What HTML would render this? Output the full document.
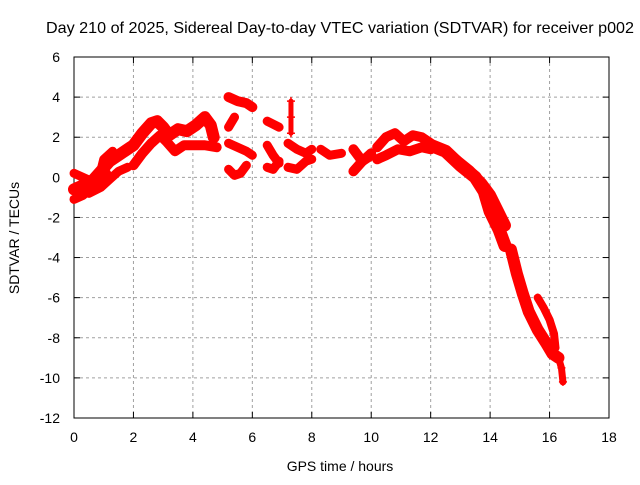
<!DOCTYPE html>
<html><head><meta charset="utf-8"><style>
body{margin:0;background:#fff;}
svg text{font-family:"Liberation Sans",sans-serif;font-size:14px;fill:#000;}
</style></head><body>
<svg id="chart" width="640" height="480">
<rect width="640" height="480" fill="#fff"/>
<text x="340" y="33" text-anchor="middle" style="font-size:16px" textLength="588" lengthAdjust="spacingAndGlyphs">Day 210 of 2025, Sidereal Day-to-day VTEC variation (SDTVAR) for receiver p002</text>
<g id="grid"></g>
<g id="axes"></g>
<g id="marks"></g>
<text x="340" y="471" text-anchor="middle">GPS time / hours</text>
<text x="0" y="0" transform="translate(19,238) rotate(-90)" text-anchor="middle">SDTVAR / TECUs</text>
</svg>
<script>
const xTicks=[0,2,4,6,8,10,12,14,16,18];
const yTicks=[6,4,2,0,-2,-4,-6,-8,-10,-12];
const track1=[[0,-0.6],[0.3,-0.4],[0.6,-0.2],[0.9,0.3],[1.2,0.8],[1.6,1.2],[2.0,1.6],[2.3,2.2],[2.6,2.7],[2.8,2.8],[3.0,2.5],[3.2,2.1],[3.5,2.4],[3.8,2.3],[4.1,2.6],[4.4,3.0],[4.6,2.6],[4.7,2.0]];
const track2=[[2.0,0.6],[2.3,1.2],[2.6,1.7],[2.9,2.1],[3.1,1.8],[3.4,1.3],[3.7,1.6],[4.0,1.6],[4.4,1.6],[4.8,1.5]];
const track3=[[0,-1.1],[0.3,-0.9],[0.6,-0.5],[0.9,-0.1],[1.1,0.2]];
const track4=[[0,0.2],[0.3,0.0],[0.6,-0.2],[0.9,0.3],[1.0,0.9],[1.3,1.3]];
const track5=[[0.5,-0.8],[0.9,-0.5],[1.2,-0.1],[1.5,0.3],[1.8,0.5]];
const track6=[[5.2,4.0],[5.5,3.8],[5.8,3.7],[6.0,3.5]];
const track7=[[5.2,2.5],[5.4,3.0]];
const track8=[[5.2,1.7],[5.5,1.5],[5.8,1.3],[6.0,1.1]];
const track9=[[5.2,0.4],[5.4,0.1],[5.6,0.2],[5.8,0.6]];
const track10=[[6.5,2.8],[6.9,2.5]];
const track11=[[6.5,1.6],[6.7,1.1],[6.9,0.7]];
const track12=[[6.5,0.5],[6.7,0.4],[6.9,0.8]];
const track13=[[7.3,3.8],[7.3,3.0],[7.3,2.2]];
const track14=[[7.2,1.7],[7.5,1.4],[7.8,1.2],[8.0,1.4]];
const track15=[[7.2,0.5],[7.5,0.4],[7.8,0.8],[8.0,0.9]];
const track16=[[8.3,1.4],[8.6,1.1],[9.0,1.2]];
const track17=[[9.4,1.4],[9.7,0.8],[10.0,1.1]];
const track18=[[9.4,0.3],[9.7,0.8],[10.0,1.2]];
const track19=[[10.2,1.5],[10.5,2.0],[10.8,2.2],[11.1,1.8],[11.4,2.1],[11.7,2.0],[12.0,1.7]];
const track20=[[10.2,0.9],[10.5,1.1],[10.9,1.4],[11.3,1.3],[11.7,1.5],[12.0,1.4]];
const track21=[[12.0,1.6],[12.5,1.3],[13.0,0.6],[13.5,0.0],[13.8,-0.7],[14.0,-1.7],[14.3,-2.6],[14.5,-3.4]];
const track22=[[12.8,0.9],[13.3,0.3],[13.7,-0.3],[14.0,-0.9],[14.3,-1.8],[14.5,-2.4]];
const track23=[[14.7,-3.6],[14.9,-4.8],[15.1,-5.8],[15.3,-6.7],[15.6,-7.6],[15.9,-8.3],[16.1,-8.8],[16.3,-9.0]];
const track24=[[15.6,-6.0],[15.8,-6.5],[16.0,-7.1],[16.15,-7.8],[16.2,-8.5]];
const track25=[[16.3,-9.0],[16.4,-9.5],[16.45,-10.2]];
const tracks=[track1,track2,track3,track4,track5,track6,track7,track8,track9,track10,track11,track12,track13,track14,track15,track16,track17,track18,track19,track20,track21,track22,track23,track24,track25];
const widths=[12,10,9,9,9,10,9,9,9,9,9,9,5,9,9,9,10,10,10,10,13,12,12,8,7];
const X0=74,X1=609,Y0=57,Y1=418;
const sx=v=>X0+(v-0)/(18-0)*(X1-X0);
const sy=v=>Y0+(6-v)/(6+12)*(Y1-Y0);
const NS="http://www.w3.org/2000/svg";
const grid=document.getElementById('grid'),axes=document.getElementById('axes'),marks=document.getElementById('marks');
function mk(t,a,p){const e=document.createElementNS(NS,t);for(const k in a)e.setAttribute(k,a[k]);p.appendChild(e);return e;}
xTicks.forEach(t=>{const x=sx(t);
 if(t>0&&t<18){const g=mk('line',{x1:x,x2:x,y1:Y0,y2:Y1,stroke:'#a0a0a0','stroke-dasharray':'3,3'},grid);
 
 }
 mk('line',{x1:x,x2:x,y1:Y1,y2:Y1-6,stroke:'#000'},axes);
 mk('line',{x1:x,x2:x,y1:Y0,y2:Y0+6,stroke:'#000'},axes);
 const l=mk('text',{x:x,y:Y1+24,'text-anchor':'middle'},axes);l.textContent=t;
 
 });
yTicks.forEach(t=>{const y=sy(t);
 if(t<6&&t>-12){const g=mk('line',{x1:X0,x2:X1,y1:y,y2:y,stroke:'#a0a0a0','stroke-dasharray':'3,3'},grid);
 
 }
 mk('line',{x1:X0,x2:X0+6,y1:y,y2:y,stroke:'#000'},axes);
 mk('line',{x1:X1,x2:X1-6,y1:y,y2:y,stroke:'#000'},axes);
 const l=mk('text',{x:X0-14,y:y+5,'text-anchor':'end'},axes);l.textContent=t;
 
 });
mk('rect',{x:X0,y:Y0,width:X1-X0,height:Y1-Y0,fill:'none',stroke:'#000'},axes);
tracks.forEach((tr,i)=>{
 const pl=mk('polyline',{points:tr.map(p=>sx(p[0])+','+sy(p[1])).join(' '),fill:'none',stroke:'#ff0000','stroke-width':widths[i],'stroke-linejoin':'round','stroke-linecap':'round'},marks);
 
 
 tr.forEach(p=>{const x=sx(p[0]),y=sy(p[1]);
  const m=mk('path',{d:`M${x-4},${y}h8M${x},${y-4}v8`,stroke:'#ff0000','stroke-width':1.5},marks);
  
  });
});
</script>
</body></html>
